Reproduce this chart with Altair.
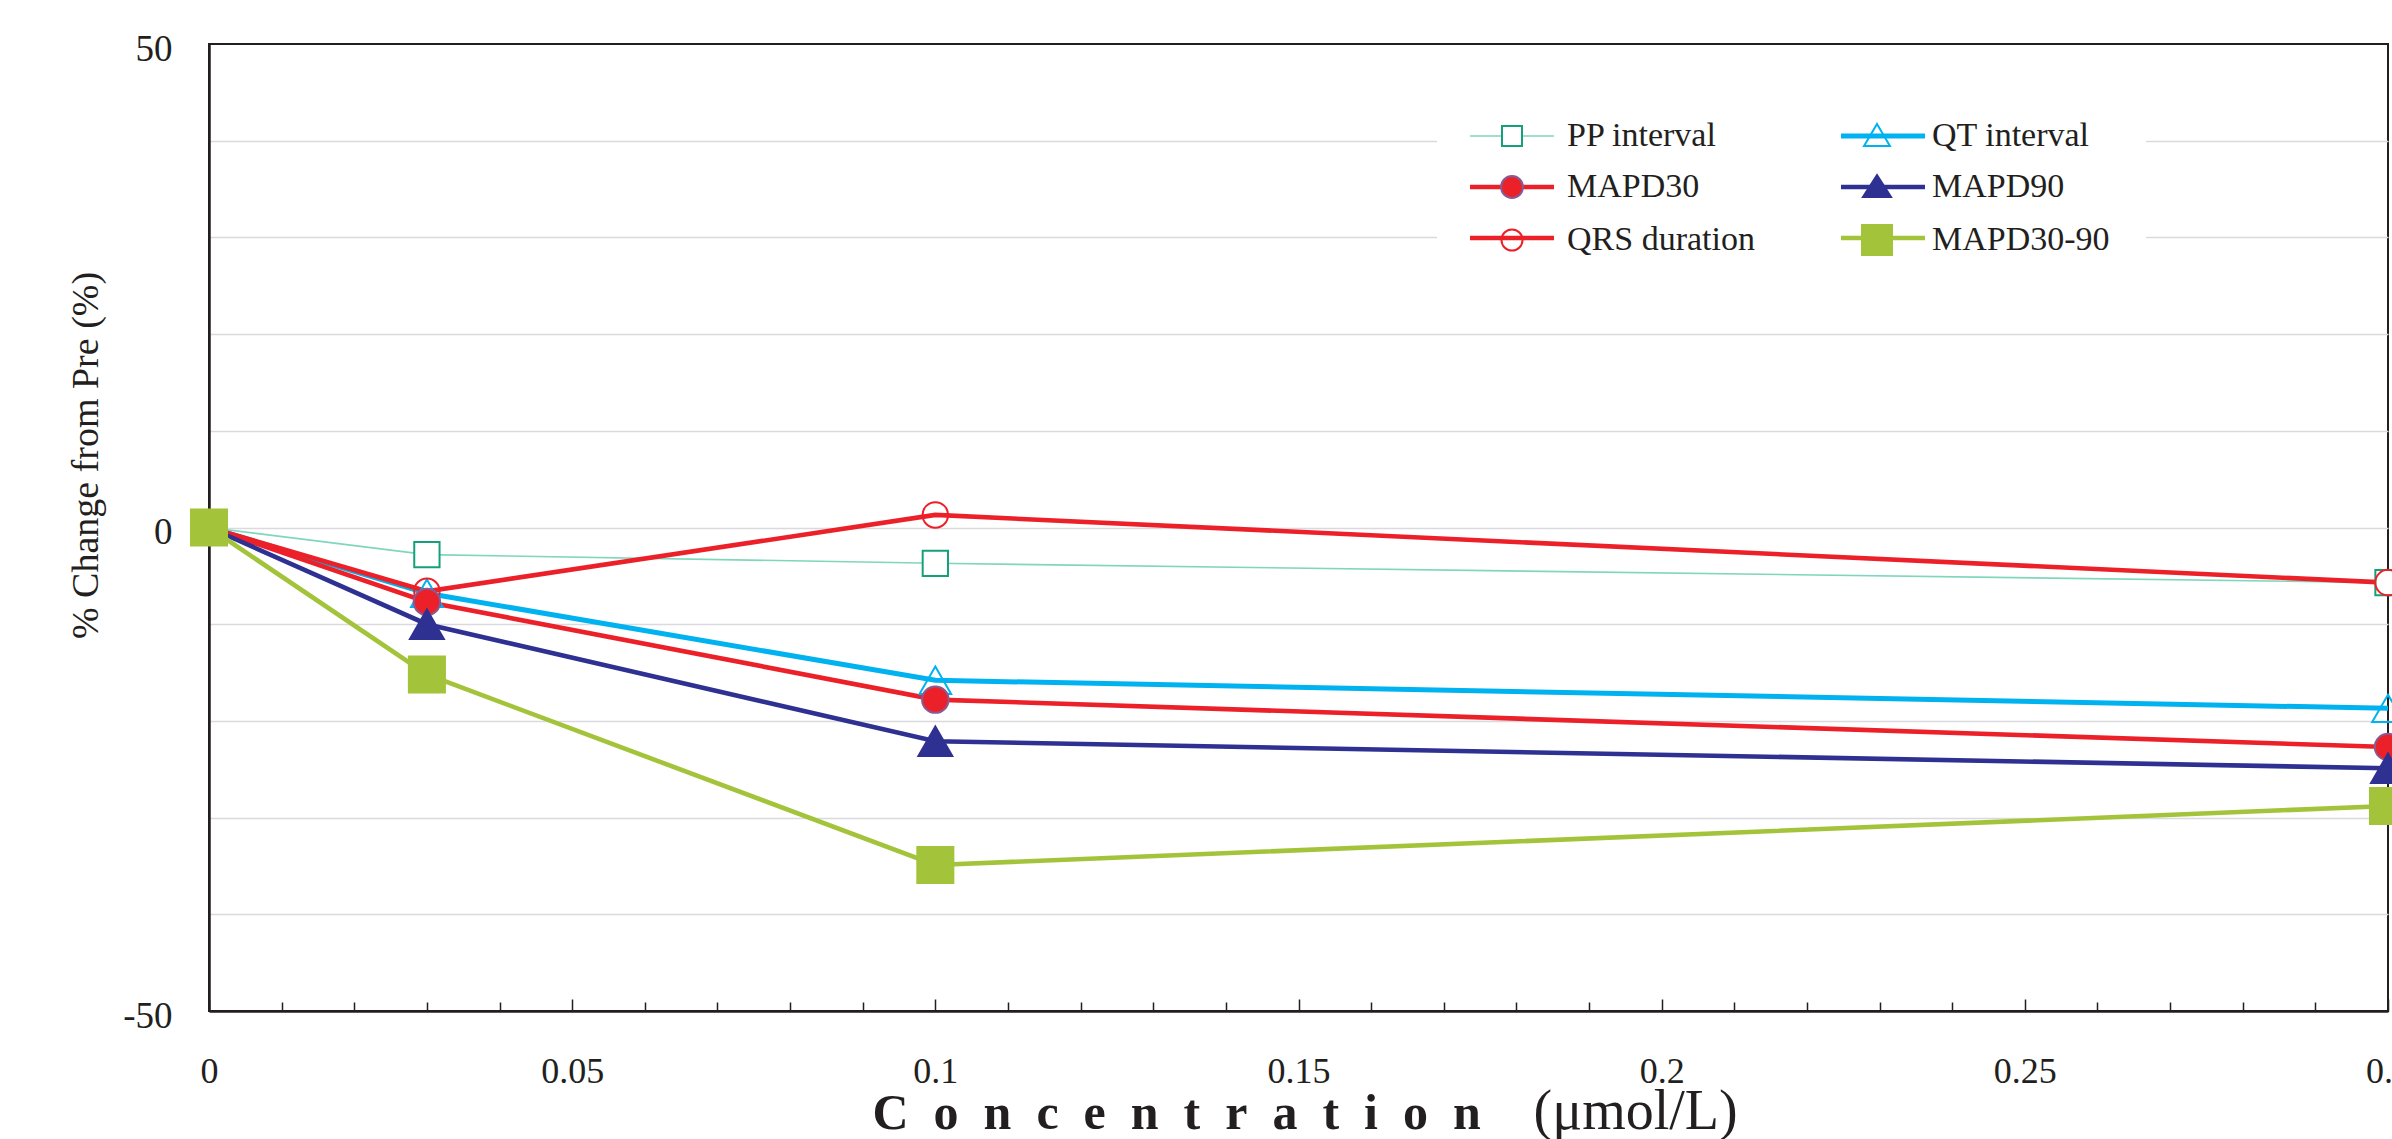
import altair as alt
import pandas as pd

# Concentrations (µmol/L) and % change from pre-dose for each parameter
concentration = [0, 0.03, 0.1, 0.3]
pp_interval = [0, -2.8, -3.7, -5.7]
qt_interval = [0, -6.8, -15.8, -18.7]
mapd30 = [0, -7.7, -17.8, -22.7]
mapd90 = [0, -10.0, -22.1, -24.9]
qrs_duration = [0, -6.6, 1.3, -5.7]
mapd30_90 = [0, -15.2, -34.9, -28.8]

series_values = {
    "PP interval": pp_interval,
    "QT interval": qt_interval,
    "QRS duration": qrs_duration,
    "MAPD30": mapd30,
    "MAPD90": mapd90,
    "MAPD30-90": mapd30_90,
}
draw_order = list(series_values.keys())
# legend entries fill column by column: left column first, then right column
legend_order = ["PP interval", "MAPD30", "QRS duration", "QT interval", "MAPD90", "MAPD30-90"]

# Styles per series
line_color = {
    "PP interval": "#7fd6bd", "QT interval": "#00b2ef", "QRS duration": "#ec2028",
    "MAPD30": "#ec2028", "MAPD90": "#2e3192", "MAPD30-90": "#a3c43a",
}
line_width = {
    "PP interval": 1.6, "QT interval": 5, "QRS duration": 4.6,
    "MAPD30": 4.6, "MAPD90": 4.6, "MAPD30-90": 4.6,
}
marker_shape = {
    "PP interval": "square", "QT interval": "triangle-up", "QRS duration": "circle",
    "MAPD30": "circle", "MAPD90": "triangle-up", "MAPD30-90": "square",
}
marker_size = {
    "PP interval": 640, "QT interval": 1000, "QRS duration": 650,
    "MAPD30": 700, "MAPD90": 1150, "MAPD30-90": 1300,
}
marker_fill = {
    "PP interval": "white", "QT interval": "transparent", "QRS duration": "transparent",
    "MAPD30": "#ec2028", "MAPD90": "#2e3192", "MAPD30-90": "#a3c43a",
}
marker_stroke = {
    "PP interval": "#16a07a", "QT interval": "#00b2ef", "QRS duration": "#ec2028",
    "MAPD30": "#8a5a92", "MAPD90": "#2e3192", "MAPD30-90": "#a3c43a",
}

# Legend glyphs as SVG paths, in units of half the legend symbol size (13.5 px).
# Each marker path starts with two bare move-tos so that its bounds span the
# same width as the legend line segment drawn underneath it.
LEGEND_LINE = "M-3.11,0H3.11"
SPAN = "M-3.11,0M3.11,0"
legend_glyph = {
    "PP interval": SPAN + "M-0.74,-0.74H0.74V0.74H-0.74Z",
    "QT interval": SPAN + "M0,-0.89L0.96,0.74H-0.96Z",
    "MAPD30": SPAN + "M-0.81,0A0.81,0.81,0,1,0,0.81,0A0.81,0.81,0,1,0,-0.81,0Z",
    "MAPD90": SPAN + "M0,-0.89L1.04,0.74H-1.04Z",
    "QRS duration": SPAN + "M-0.78,0A0.78,0.78,0,1,0,0.78,0A0.78,0.78,0,1,0,-0.78,0Z",
    "MAPD30-90": SPAN + "M-1.11,-1.11H1.11V1.11H-1.11Z",
}

rows = []
for name in draw_order:
    for c, v in zip(concentration, series_values[name]):
        rows.append({"series": name, "conc": c, "change": v})
df = pd.DataFrame(rows)

INK = "#231f20"
SERIF = "Liberation Serif, Times New Roman, serif"
PLOT_W, PLOT_H = 2179, 967

x_scale = alt.Scale(domain=[0, 0.3], nice=False, zero=False)
y_scale = alt.Scale(domain=[-50, 50], nice=False, zero=False)

spaced_title = "\u00a0\u00a0".join("Concentration")

x_axis_bottom = alt.Axis(
    orient="bottom",
    values=[0, 0.05, 0.1, 0.15, 0.2, 0.25, 0.3],
    format="~g",
    labelFont=SERIF, labelFontSize=36, labelColor=INK,
    labelPadding=43, labelFlush=False, labelOverlap=False,
    ticks=False, grid=False,
    domain=True, domainColor=INK, domainWidth=2.5,
    title=spaced_title, titleFont=SERIF, titleFontSize=50, titleFontWeight="bold",
    titleColor=INK, titleAlign="left", titleBaseline="alphabetic",
    titleX=663, titleY=117, titleAngle=0,
)
minor_ticks = [round(i * 0.01, 2) for i in range(0, 31)]
x_axis_ticks = alt.Axis(
    orient="top", offset=-PLOT_H,
    values=minor_ticks,
    labels=False, domain=False, grid=False,
    ticks=True, tickColor=INK, tickWidth=1.5,
    tickSize={"condition": {"test": "abs(round(datum.value * 100)) % 5 == 0", "value": 12}, "value": 9},
    title="(\u03bcmol/L)", titleFont=SERIF, titleFontSize=56, titleFontWeight="normal",
    titleColor=INK, titleAlign="left", titleBaseline="alphabetic",
    titleX=1324, titleY=117, titleAngle=0,
)
y_axis = alt.Axis(
    values=list(range(-50, 51, 10)),
    labelExpr="abs(datum.value) % 50 == 0 ? (datum.value < 0 ? '-' + abs(datum.value) : '' + datum.value) : ''",
    labelFont=SERIF, labelFontSize=37, labelColor=INK,
    labelPadding=37, labelOffset=5, labelFlush=False, labelOverlap=False,
    ticks=False, tickSize=0,
    domain=True, domainColor=INK, domainWidth=2.5,
    grid=True, gridColor="#d9d9df", gridWidth=1.5,
    gridOpacity={"condition": {"test": "abs(datum.value) == 50", "value": 0}, "value": 1},
    title="% Change from Pre (%)", titleFont=SERIF, titleFontSize=38, titleFontWeight="normal",
    titleColor=INK, titleAngle=270, titleAlign="center", titleBaseline="middle",
    titleX=-123, titleY=411,
)

base = alt.Chart(df)

lines = base.mark_line().encode(
    x=alt.X("conc:Q", scale=x_scale, axis=x_axis_bottom),
    y=alt.Y("change:Q", scale=y_scale, axis=y_axis),
    color=alt.Color("series:N", sort=draw_order,
                    scale=alt.Scale(domain=draw_order, range=[line_color[s] for s in draw_order]),
                    legend=None),
    strokeWidth=alt.StrokeWidth("series:N", sort=draw_order,
                                scale=alt.Scale(type="ordinal", domain=draw_order,
                                                range=[line_width[s] for s in draw_order]),
                                legend=None),
)

points = base.mark_point(opacity=1, strokeWidth=2).encode(
    x=alt.X("conc:Q", scale=x_scale, axis=x_axis_ticks),
    y=alt.Y("change:Q", scale=y_scale, axis=y_axis),
    shape=alt.Shape("series:N", scale=alt.Scale(domain=draw_order, range=[marker_shape[s] for s in draw_order]), legend=None),
    size=alt.Size("series:N", scale=alt.Scale(type="ordinal", domain=draw_order, range=[marker_size[s] for s in draw_order]), legend=None),
    fill=alt.Fill("series:N", scale=alt.Scale(domain=draw_order, range=[marker_fill[s] for s in draw_order]), legend=None),
    stroke=alt.Stroke("series:N", scale=alt.Scale(domain=draw_order, range=[marker_stroke[s] for s in draw_order]), legend=None),
)

legend_common = dict(
    orient="none", legendX=1228, legendY=45, columns=2,
    columnPadding=76, rowPadding=17,
    symbolSize=729, symbolOffset=28, labelOffset=38,
    labelFont=SERIF, labelFontSize=34, labelColor=INK, labelLimit=600,
    padding=30, title=None,
)
legend_line_def = alt.Legend(symbolType=LEGEND_LINE, labelOpacity=0, fillColor="white", zindex=1, **legend_common)
legend_marker_def = alt.Legend(symbolStrokeWidth=2, zindex=2, **legend_common)

legend_lines = base.transform_filter("false").mark_point(opacity=1, filled=False).encode(
    stroke=alt.Stroke("series:N", scale=alt.Scale(domain=legend_order, range=[line_color[s] for s in legend_order]), legend=legend_line_def),
    strokeWidth=alt.StrokeWidth("series:N", scale=alt.Scale(type="ordinal", domain=legend_order, range=[line_width[s] for s in legend_order]), legend=legend_line_def),
)

legend_markers = base.transform_filter("false").mark_point(opacity=1, strokeWidth=2).encode(
    shape=alt.Shape("series:N", scale=alt.Scale(domain=legend_order, range=[legend_glyph[s] for s in legend_order]), legend=legend_marker_def),
    fill=alt.Fill("series:N", scale=alt.Scale(domain=legend_order, range=[marker_fill[s] for s in legend_order]), legend=legend_marker_def),
    stroke=alt.Stroke("series:N", scale=alt.Scale(domain=legend_order, range=[marker_stroke[s] for s in legend_order]), legend=legend_marker_def),
)

chart = (
    alt.layer(lines, points, legend_lines, legend_markers)
    .resolve_scale(shape="independent", fill="independent", stroke="independent",
                   strokeWidth="independent", size="independent", color="independent")
    .resolve_legend(shape="independent", fill="independent", stroke="independent",
                    strokeWidth="independent", size="independent", color="independent")
    .resolve_axis(x="independent")
    .properties(
        width=PLOT_W, height=PLOT_H,
        autosize=alt.AutoSizeParams(type="none"),
        padding={"left": 209, "top": 44, "right": 4, "bottom": 128},
        background="white",
    )
    .configure_view(stroke=INK, strokeWidth=2)
)

chart.save("out.html", embed_options={"renderer": "svg", "actions": False})
